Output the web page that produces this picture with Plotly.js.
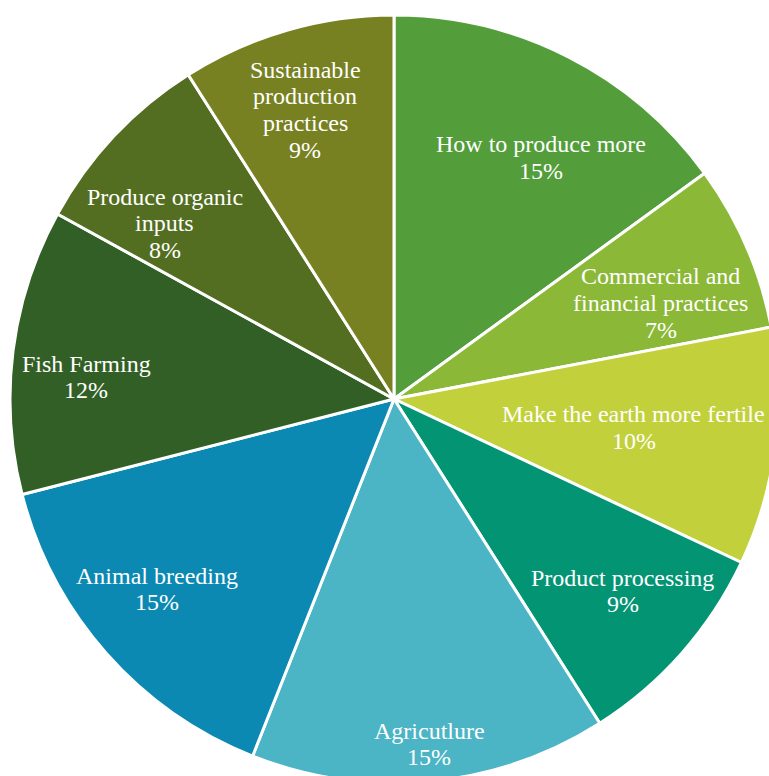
<!DOCTYPE html>
<html>
<head>
<meta charset="utf-8">
<script src="https://cdn.plot.ly/plotly-3.0.1.min.js"></script>
<style>
html, body { margin: 0; padding: 0; width: 769px; height: 776px; overflow: hidden; background: #ffffff; }
#chart { position: absolute; left: 10px; top: 15px; width: 768px; height: 768px; }
</style>
</head>
<body>
<div id="chart"></div>
<script>
const categories = [
  "How to produce more",
  "Commercial and financial practices",
  "Make the earth more fertile",
  "Product processing",
  "Agricutlure",
  "Animal breeding",
  "Fish Farming",
  "Produce organic inputs",
  "Sustainable production practices"
];
const displayLabels = [
  "How to produce more",
  "Commercial and<br>financial practices",
  "Make the earth more fertile",
  "Product processing",
  "Agricutlure",
  "Animal breeding",
  "Fish Farming",
  "Produce organic<br>inputs",
  "Sustainable<br>production<br>practices"
];
const shares = [15, 7, 10, 9, 15, 15, 12, 8, 9];
const colors = ["#539e3b", "#8bb836", "#c2d13b", "#039474", "#4bb4c5", "#0b89b2", "#325f25", "#536e20", "#788122"];
// "best fit" label placement (style): distance from centre as fraction of radius,
// and a small angular nudge (degrees) from each slice's mid-angle
const labelRadius = [0.737, 0.739, 0.629, 0.778, 0.903, 0.791, 0.804, 0.752, 0.788];
const labelAngleNudge = [4.3, 3.6, -0.5, -1.4, -0.4, 2.7, -3.1, -5.7, -0.9];

const FONT = "Liberation Serif";
const FONT_SIZE = 24;
const LINE_H = 26.7;

const trace = {
  type: "pie",
  labels: categories,
  values: shares,
  textinfo: "none",
  textposition: "none",
  sort: false,
  direction: "clockwise",
  rotation: 0,
  hole: 0,
  marker: { colors: colors, line: { color: "#ffffff", width: 3 } },
  hoverinfo: "label+percent"
};

// place labels around each slice's mid-angle (computed from the data)
const total = shares.reduce((a, b) => a + b, 0);
let cum = 0;
const annotations = [];
shares.forEach((v, i) => {
  const mid = (cum + v / 2) / total * 2 * Math.PI + labelAngleNudge[i] * Math.PI / 180;
  cum += v;
  const f = labelRadius[i];
  const cx = 0.5 + 0.5 * f * Math.sin(mid);
  const cy = 0.5 + 0.5 * f * Math.cos(mid);
  const lines = (displayLabels[i] + "<br>" + Math.round(v / total * 100) + "%").split("<br>");
  const n = lines.length;
  lines.forEach((ln, j) => {
    annotations.push({
      xref: "paper", yref: "paper",
      x: cx, y: cy,
      xanchor: "center", yanchor: "middle",
      yshift: ((n - 1) / 2 - j) * LINE_H,
      showarrow: false,
      align: "center",
      text: ln,
      font: { family: FONT, size: FONT_SIZE, color: "#ffffff" }
    });
  });
});

const layout = {
  width: 768,
  height: 768,
  margin: { l: 0, r: 0, t: 0, b: 0, pad: 0 },
  showlegend: false,
  paper_bgcolor: "#ffffff",
  font: { family: FONT },
  annotations: annotations
};

Plotly.newPlot("chart", [trace], layout, { displayModeBar: false, staticPlot: true });
</script>
</body>
</html>
